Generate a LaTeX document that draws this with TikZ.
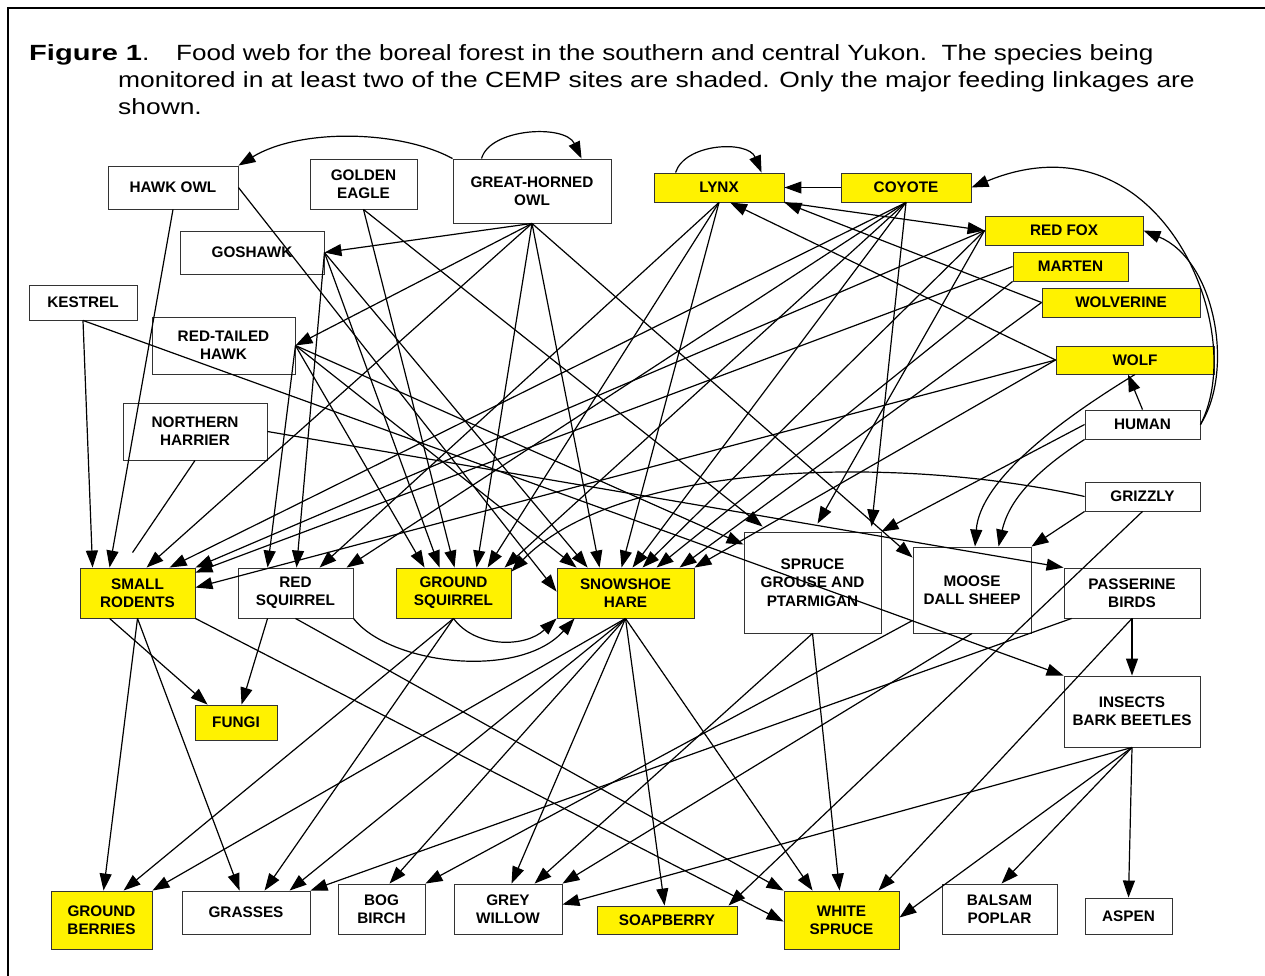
\documentclass[tikz,border=0pt]{standalone}
\usepackage{fontspec}
\setmainfont{Liberation Sans}
\newfontfamily\capfont{Liberation Sans}[FakeStretch=1.2]
\usetikzlibrary{arrows.meta,calc}
\begin{document}
\begin{tikzpicture}[x=1pt,y=-1pt,
  box/.style={draw=black!80, line width=0.9pt, inner sep=0pt, align=center,
    font=\bfseries\fontsize{15.3}{18.3}\selectfont},
  ybox/.style={box, fill=yellow},
  arr/.style={line width=1.2pt, -{Triangle[length=17pt,width=12pt]}},
  ln/.style={line width=1.2pt},
  captext/.style={anchor=base west, inner sep=0pt, font=\capfont\fontsize{22}{27}\selectfont}]
\useasboundingbox (0,0) rectangle (1265,976);
\draw[line width=2pt] (8,976) -- (8,8) -- (1265,8);
% caption
\node[captext] (cap1a) at (29,61) {\textbf{\scalebox{1.1}[1]{Figure 1}}.};
\node[captext] (cap1b) at (176,61)
  {\scalebox{0.988}[1]{Food web for the boreal forest in the southern and central Yukon.\ \ The species being}};
\node[captext] (cap2) at (118,88)
  {monitored in at least two of the CEMP sites are shaded. Only the major feeding linkages are};
\node[captext] (cap3) at (118,115)
  {shown.};
% nodes
\node[box, minimum width=130pt, minimum height=43pt] (hawkowl) at (173,187.5) {HAWK OWL};
\node[box, minimum width=107pt, minimum height=50pt] (eagle) at (363.5,184) {GOLDEN\\EAGLE};
\node[box, minimum width=158pt, minimum height=64pt] (ghowl) at (532,191) {GREAT-HORNED\\OWL};
\node[ybox, minimum width=130pt, minimum height=29pt] (lynx) at (719,187.5) {LYNX};
\node[ybox, minimum width=130pt, minimum height=29pt] (coyote) at (906,187.5) {COYOTE};
\node[ybox, minimum width=158pt, minimum height=29pt] (redfox) at (1064,230.5) {RED FOX};
\node[ybox, minimum width=115pt, minimum height=29pt] (marten) at (1070.5,266.5) {MARTEN};
\node[ybox, minimum width=158pt, minimum height=29pt] (wolverine) at (1121,302.5) {WOLVERINE};
\node[ybox, minimum width=158pt, minimum height=28pt] (wolf) at (1135,360) {WOLF};
\node[box, minimum width=115pt, minimum height=29pt] (human) at (1142.5,424.5) {HUMAN};
\node[box, minimum width=115pt, minimum height=29pt] (grizzly) at (1142.5,496.5) {GRIZZLY};
\node[box, minimum width=144pt, minimum height=43pt] (goshawk) at (252,252.5) {GOSHAWK};
\node[box, minimum width=108pt, minimum height=35pt] (kestrel) at (83,302.5) {KESTREL};
\node[box, minimum width=143pt, minimum height=57pt] (rth) at (223.5,345.5) {RED-TAILED\\HAWK};
\node[box, minimum width=144pt, minimum height=57pt] (harrier) at (195,431.5) {NORTHERN\\HARRIER};
\node[ybox, minimum width=115pt, minimum height=50pt] (rodents) at (137.5,593) {SMALL\\RODENTS};
\node[box, minimum width=115pt, minimum height=50pt] (redsq) at (295.5,593) {RED\\SQUIRREL};
\node[ybox, minimum width=115pt, minimum height=50pt] (groundsq) at (453.5,593) {GROUND\\SQUIRREL};
\node[ybox, minimum width=137pt, minimum height=50pt] (hare) at (625.5,593) {SNOWSHOE\\HARE};
\node[box, minimum width=137pt, minimum height=101pt] (grouse) at (812.5,582.5) {SPRUCE\\GROUSE AND\\PTARMIGAN};
\node[box, minimum width=118pt, minimum height=86pt] (moose) at (972,590) {MOOSE\\DALL SHEEP};
\node[box, minimum width=136pt, minimum height=50pt] (passerine) at (1132,593) {PASSERINE\\BIRDS};
\node[box, minimum width=136pt, minimum height=71pt] (insects) at (1132,711.5) {INSECTS\\BARK BEETLES};
\node[ybox, minimum width=82pt, minimum height=35pt] (fungi) at (236,722.5) {FUNGI};
\node[ybox, minimum width=101pt, minimum height=58pt] (berries) at (101.5,920) {GROUND\\BERRIES};
\node[box, minimum width=128pt, minimum height=43pt] (grasses) at (246,912.5) {GRASSES};
\node[box, minimum width=87pt, minimum height=50pt] (bogbirch) at (381.5,909) {BOG\\BIRCH};
\node[box, minimum width=108pt, minimum height=50pt] (greywillow) at (508,909) {GREY\\WILLOW};
\node[ybox, minimum width=140pt, minimum height=28pt] (soapberry) at (667,920) {SOAPBERRY};
\node[ybox, minimum width=115pt, minimum height=58pt] (whitespruce) at (841.5,920) {WHITE\\SPRUCE};
\node[box, minimum width=115pt, minimum height=50pt] (balsam) at (999.5,909) {BALSAM\\POPLAR};
\node[box, minimum width=87pt, minimum height=36pt] (aspen) at (1128.5,916) {ASPEN};
% ---- upper connectors
\draw[arr] (ghowl.north west) .. controls (400,130) and (300,128) .. (hawkowl.north east);
\draw[arr] ([xshift=29pt]ghowl.north west) .. controls (490,128) and (565,124) .. ([xshift=129pt]ghowl.north west);
\draw[arr] ([xshift=22pt]lynx.north west) .. controls (685,143) and (748,140) .. ([xshift=108pt]lynx.north west);
\draw[arr] (coyote.west) -- (lynx.east);
\draw[arr] (human.east) .. controls (1250,330) and (1160,110) .. (coyote.east);
\draw[arr] (human.east) .. controls (1235,370) and (1215,260) .. (redfox.east);
\draw[arr] (human.north) -- ([xshift=-7pt]wolf.south);
\draw[arr] (wolf.west) -- ([xshift=11pt]lynx.south);
\draw[arr] (wolverine.west) -- (lynx.south east);
\draw[arr] (lynx.south east) -- (redfox.west);
% hawk owl
\draw[arr] (hawkowl.south) -- ([xshift=30pt]rodents.north west);
\draw[arr] (hawkowl.east) -- ([yshift=-24pt]hare.north west);
% kestrel
\draw[arr] (kestrel.south) -- ([xshift=13pt]rodents.north west);
\draw[arr] (kestrel.south) -- (insects.north west);
% golden eagle
\draw[arr] (eagle.south) -- ([xshift=59pt]groundsq.north west);
\draw[arr] (eagle.south) -- ([xshift=19pt,yshift=5pt]grouse.north west);
% great-horned owl
\draw[arr] (ghowl.south) -- (goshawk.east);
\draw[arr] (ghowl.south) -- (rth.east);
\draw[arr] (ghowl.south) -- ([xshift=67pt]rodents.north west);
\draw[arr] (ghowl.south) -- ([xshift=81pt]groundsq.north west);
\draw[arr] (ghowl.south) -- ([xshift=43pt]hare.north west);
\draw[arr] (ghowl.south) -- ([yshift=-11pt]moose.north west);
% goshawk
\draw[arr] (goshawk.east) -- ([xshift=59pt]redsq.north west);
\draw[arr] (goshawk.east) -- ([xshift=44pt]groundsq.north west);
\draw[arr] (goshawk.east) -- ([xshift=31pt]hare.north west);
% red-tailed hawk
\draw[arr] (rth.east) -- ([xshift=30pt]redsq.north west);
\draw[arr] (rth.east) -- ([xshift=29pt]groundsq.north west);
\draw[arr] (rth.east) -- ([xshift=20pt]hare.north west);
\draw[arr] (rth.east) -- ([yshift=-13pt]grouse.north west);
% harrier
\draw[ln] (harrier.south) -- ([xshift=53pt,yshift=15pt]rodents.north west);
\draw[arr] (harrier.east) -- (passerine.north west);
% lynx
\draw[arr] (lynx.south) -- ([xshift=82pt]redsq.north west);
\draw[arr] (lynx.south) -- ([xshift=92pt]groundsq.north west);
\draw[arr] (lynx.south) -- ([xshift=65pt]hare.north west);
% coyote
\draw[arr] (coyote.south) -- ([xshift=90pt]rodents.north west);
\draw[arr] (coyote.south) -- ([xshift=109pt]redsq.north west);
\draw[arr] (coyote.south) -- ([xshift=109pt]groundsq.north west);
\draw[arr] (coyote.south) -- ([xshift=76pt]hare.north west);
\draw[arr] (coyote.south) -- ([xshift=128pt,yshift=5pt]grouse.north west);
% red fox
\draw[arr] (redfox.west) -- (rodents.north east);
\draw[arr] (redfox.west) -- ([xshift=86pt]hare.north west);
\draw[arr] (redfox.west) -- ([xshift=74pt,yshift=8pt]grouse.north west);
% marten
\draw[arr] (marten.west) -- ([yshift=-5pt]rodents.north east);
\draw[arr] (marten.south west) -- ([xshift=100pt]hare.north west);
% wolverine
\draw[arr] (wolverine.west) -- ([xshift=123pt]hare.north west);
% wolf
\draw[arr] (wolf.west) -- ([yshift=-20pt]rodents.north east);
\draw[arr] (wolf.west) -- (hare.north east);
\draw[arr] (wolf.south) .. controls (1060,420) and (980,480) .. ([xshift=3pt]moose.north);
% human
\draw[arr] (human.west) -- (grouse.north east);
\draw[arr] (human.south west) .. controls (1045,465) and (1010,495) .. ([xshift=86pt]moose.north west);
% grizzly
\draw[arr] (grizzly.west) .. controls (900,455) and (620,460) .. ([yshift=-4pt]groundsq.north east);
\draw[arr] (grizzly.south west) -- (moose.north east);
\draw[arr] (grizzly.south) -- ([xshift=132pt]soapberry.north west);
% ---- lower connectors
\draw[arr] (rodents.south) -- ([xshift=53pt]berries.north west);
\draw[arr] (rodents.south) -- ([xshift=58pt]grasses.north west);
\draw[arr] ([xshift=30pt]rodents.south west) -- ([xshift=13pt]fungi.north west);
\draw[arr] (rodents.south east) -- ([yshift=-31pt]whitespruce.north west);
\draw[arr] ([xshift=30pt]redsq.south west) -- ([xshift=47pt]fungi.north west);
\draw[arr] (redsq.south) -- (whitespruce.north west);
\draw[arr] (redsq.south east) .. controls (390,665) and (520,680) .. ([xshift=18pt]hare.south west);
\draw[arr] (groundsq.south) .. controls (475,648) and (525,648) .. (hare.south west);
\draw[arr] (groundsq.south) -- ([xshift=73pt]berries.north west);
\draw[arr] (groundsq.south) -- ([xshift=83pt]grasses.north west);
\draw[arr] (hare.south) -- (berries.north east);
\draw[arr] (hare.south) -- ([xshift=108pt]grasses.north west);
\draw[arr] (hare.south) -- ([xshift=52pt]bogbirch.north west);
\draw[arr] (hare.south) -- ([xshift=58pt]greywillow.north west);
\draw[arr] (hare.south) -- ([xshift=68pt]soapberry.north west);
\draw[arr] (hare.south) -- ([xshift=29pt]whitespruce.north west);
\draw[arr] (grouse.south) -- ([xshift=56pt]whitespruce.north west);
\draw[arr] (grouse.south) -- ([xshift=81pt]greywillow.north west);
\draw[arr] ([yshift=13pt]moose.south west) -- (bogbirch.north east);
\draw[arr] (moose.south) -- (greywillow.north east);
\draw[arr] ([xshift=8pt]passerine.south west) -- (grasses.north east);
\draw[arr] (passerine.south) -- (insects.north);
\draw[arr] (passerine.south) -- ([xshift=95pt]whitespruce.north west);
\draw[arr] (insects.south) -- (aspen.north);
\draw[arr] (insects.south) -- ([xshift=60pt]balsam.north west);
\draw[arr] (insects.south) -- ([yshift=-27pt]whitespruce.north east);
\draw[arr] (insects.south) -- ([yshift=-21pt]greywillow.north east);
\end{tikzpicture}
\end{document}
